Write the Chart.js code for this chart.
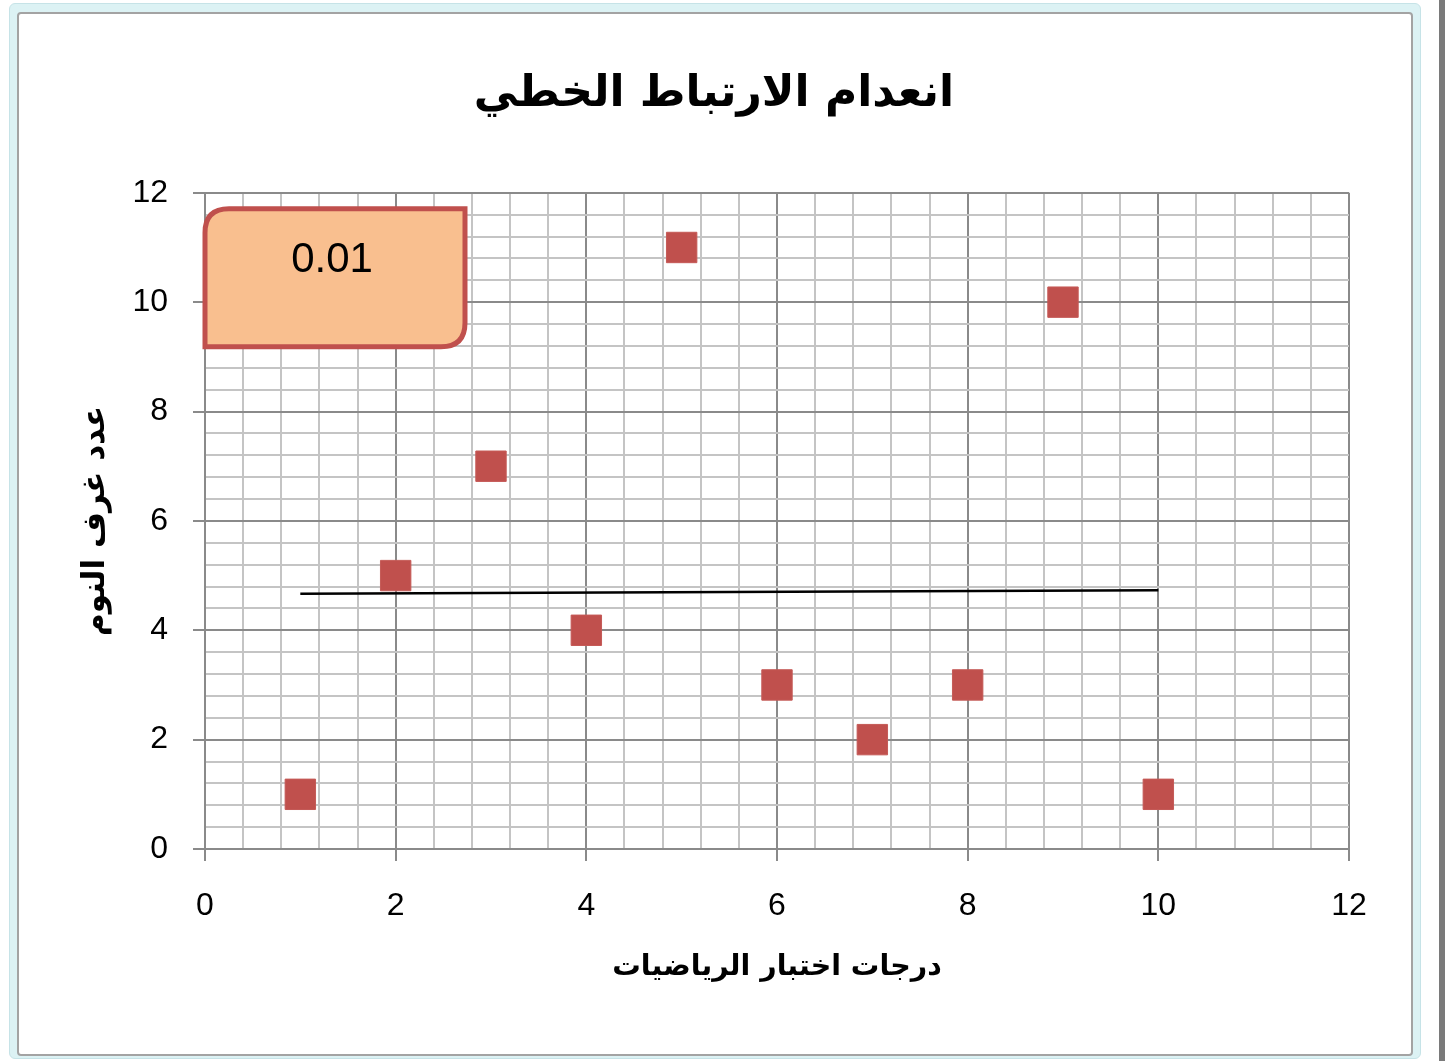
<!DOCTYPE html>
<html>
<head>
<meta charset="utf-8">
<title>انعدام الارتباط الخطي</title>
<script src="https://cdn.jsdelivr.net/npm/chart.js@4/dist/chart.umd.min.js"></script>
<style>
    body { margin: 0; background: #fff; }
    #wrap { position: relative; width: 1445px; height: 1061px; overflow: hidden; }
    .outer { position: absolute; left: 9px; top: 3px; width: 1410px; height: 1054px; background: #dcf2f4; border: 1px solid #c6e3e7; border-radius: 6px; }
    .inner { position: absolute; left: 17px; top: 12px; width: 1392px; height: 1040px; background: #fff; border: 2px solid #a3a3a3; border-radius: 4px; }
    .strip { position: absolute; left: 1439px; top: 0; width: 6px; height: 1061px; background: #7a7a7a; }
    canvas { position: absolute; left: 0; top: 0; }
</style>
</head>
<body>
<div id="wrap">
    <div class="outer"></div>
    <div class="inner"></div>
    <div class="strip"></div>
    <canvas id="scatterChart" width="1445" height="1061"></canvas>
</div>
<script>
// Chart data
const mathScores = [1, 2, 3, 4, 5, 6, 7, 8, 9, 10];
const bedrooms = [1, 5, 7, 4, 11, 3, 2, 3, 10, 1];
const trendX = [1, 10];
const trendY = [4.67, 4.73];
const correlationText = '0.01';

const chartTitle = 'انعدام الارتباط الخطي';
const xTitle = 'درجات اختبار الرياضيات';
const yTitle = 'عدد غرف النوم';

const isMajor = v => Math.abs(v / 2 - Math.round(v / 2)) < 1e-6;
const gridColor = ctx => isMajor(ctx.tick.value) ? '#8a8a8a' : '#c4c4c4';
const tickColor = ctx => isMajor(ctx.tick.value) ? '#8a8a8a' : 'rgba(0,0,0,0)';

// Excel style text box with the r value
const corrBox = {
    id: 'corrBox',
    afterDatasetsDraw(chart) {
        const { ctx, chartArea } = chart;
        const x0 = chartArea.left, y0 = chartArea.top + 16;
        const w = 260, h = 138, r = 24;
        ctx.save();
        ctx.beginPath();
        ctx.moveTo(x0 + r, y0);
        ctx.lineTo(x0 + w, y0);
        ctx.lineTo(x0 + w, y0 + h - r);
        ctx.quadraticCurveTo(x0 + w, y0 + h, x0 + w - r, y0 + h);
        ctx.lineTo(x0, y0 + h);
        ctx.lineTo(x0, y0 + r);
        ctx.quadraticCurveTo(x0, y0, x0 + r, y0);
        ctx.closePath();
        ctx.fillStyle = '#f9bf8f';
        ctx.fill();
        ctx.lineWidth = 5;
        ctx.strokeStyle = '#c0504d';
        ctx.stroke();
        ctx.fillStyle = '#000';
        ctx.font = '42px "Liberation Sans", Arial, sans-serif';
        ctx.textAlign = 'center';
        ctx.textBaseline = 'middle';
        ctx.fillText(correlationText, x0 + w / 2 - 3, y0 + 52);
        ctx.restore();
    }
};

const scatterData = mathScores.map((x, i) => ({ x: x, y: bedrooms[i] }));
const trendData = trendX.map((x, i) => ({ x: x, y: trendY[i] }));

const ctx = document.getElementById('scatterChart').getContext('2d');
const scatterChart = new Chart(ctx, {
    type: 'scatter',
    data: {
        datasets: [{
            label: 'points',
            data: scatterData,
            pointStyle: 'rect',
            pointRadius: 21.5,
            pointHoverRadius: 21.5,
            backgroundColor: '#c0504d',
            borderColor: '#c55a57',
            borderWidth: 1,
            order: 2
        }, {
            type: 'line',
            label: 'trend',
            data: trendData,
            borderColor: '#000',
            borderWidth: 2.5,
            pointRadius: 0,
            fill: false,
            order: 1
        }]
    },
    options: {
        responsive: false,
        animation: false,
        devicePixelRatio: 1,
        layout: { padding: { left: 79, right: 96, top: 0, bottom: 0 } },
        plugins: {
            legend: { display: false },
            tooltip: { enabled: false },
            title: {
                display: true,
                text: chartTitle,
                color: '#000',
                font: { family: '"DejaVu Sans"', size: 44, weight: 'bold', lineHeight: 1.2 },
                padding: { top: 68, bottom: 72 }
            }
        },
        scales: {
            x: {
                type: 'linear',
                min: 0,
                max: 12,
                afterFit(scale) { scale.height = 212; },
                ticks: {
                    stepSize: 0.4,
                    autoSkip: false,
                    maxRotation: 0,
                    padding: 26,
                    color: '#000',
                    font: { family: '"Liberation Sans"', size: 32 },
                    callback: v => isMajor(v) ? Math.round(v).toString() : ''
                },
                grid: { color: gridColor, tickColor: tickColor, lineWidth: 2, tickLength: 12 },
                border: { color: '#8a8a8a', width: 2 },
                title: {
                    display: true,
                    text: xTitle,
                    color: '#000',
                    font: { family: '"DejaVu Sans"', size: 28.5, weight: 'bold', lineHeight: 1.2 },
                    padding: { top: 0, bottom: 76 }
                }
            },
            y: {
                type: 'linear',
                min: 0,
                max: 12,
                afterFit(scale) { scale.width = 126; },
                ticks: {
                    stepSize: 0.4,
                    autoSkip: false,
                    padding: 25,
                    color: '#000',
                    font: { family: '"Liberation Sans"', size: 32 },
                    callback: v => isMajor(v) ? Math.round(v).toString() : ''
                },
                grid: { color: gridColor, tickColor: tickColor, lineWidth: 2, tickLength: 12 },
                border: { color: '#8a8a8a', width: 2 },
                title: {
                    display: true,
                    text: yTitle,
                    color: '#000',
                    font: { family: '"DejaVu Sans"', size: 31, weight: 'bold', lineHeight: 1 },
                    padding: { top: 1, bottom: 0 }
                }
            }
        }
    },
    plugins: [corrBox]
});
</script>
</body>
</html>
